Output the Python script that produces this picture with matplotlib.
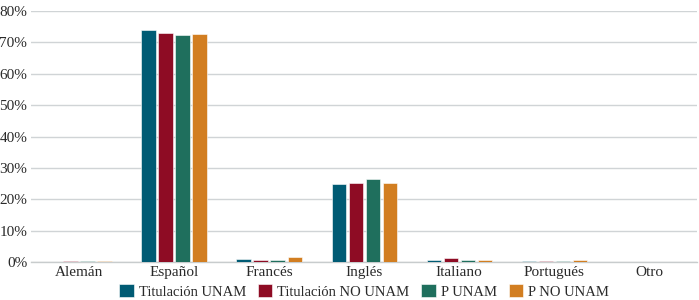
import matplotlib
matplotlib.use("Agg")
import matplotlib.pyplot as plt
import numpy as np
from matplotlib.ticker import FuncFormatter

plt.rcParams['font.family'] = ['Liberation Serif', 'DejaVu Serif']

categories = ["Alemán", "Español", "Francés", "Inglés", "Italiano", "Portugués", "Otro"]
series_names = ["Titulación UNAM", "Titulación NO UNAM", "P UNAM", "P NO UNAM"]
tit_unam = [0.1, 74.0, 1.0, 24.8, 0.5, 0.4, 0.0]
tit_no_unam = [0.2, 73.0, 0.7, 25.3, 1.2, 0.3, 0.0]
p_unam = [0.4, 72.3, 0.7, 26.5, 0.6, 0.4, 0.0]
p_no_unam = [0.4, 72.7, 1.5, 25.2, 0.6, 0.7, 0.0]
colors = ["#005b74", "#8e0c24", "#1f6f5d", "#d27e21"]

fig = plt.figure(figsize=(6.99, 3.0), dpi=100)
ax = fig.add_axes([0.045, 0.127, 0.952, 0.836])

x = np.arange(len(categories))
step = 0.179
width = 0.15
for i, (vals, name) in enumerate(zip([tit_unam, tit_no_unam, p_unam, p_no_unam], series_names)):
    ax.bar(x + (i - 1.5) * step, vals, width, color=colors[i], label=name,
           edgecolor="white", linewidth=0.4, zorder=3)

ax.set_xlim(-0.5, len(categories) - 0.5)
ax.set_ylim(0, 80)
ax.set_yticks(np.arange(0, 81, 10))
ax.yaxis.set_major_formatter(FuncFormatter(lambda v, p: f"{v:.0f}%"))
ax.set_xticks(x)
ax.set_xticklabels(categories)
ax.tick_params(axis='both', length=0, labelsize=11, colors="#2a2a2a")
ax.tick_params(axis='x', pad=3)
ax.tick_params(axis='y', pad=3)
ax.grid(axis='y', color="#d0d4d6", linewidth=1.0, zorder=0)
for s in ["top", "right", "left"]:
    ax.spines[s].set_visible(False)
ax.spines["bottom"].set_color("#c8cccd")
ax.spines["bottom"].set_linewidth(1.0)

leg = ax.legend(loc="center", bbox_to_anchor=(0.5, -0.118), ncol=4, frameon=False,
                fontsize=10.5, handlelength=1.0, handleheight=1.0, handletextpad=0.35,
                columnspacing=0.8, borderpad=0)
for t in leg.get_texts():
    t.set_color("#2a2a2a")

fig.savefig("out.png", dpi=100)
